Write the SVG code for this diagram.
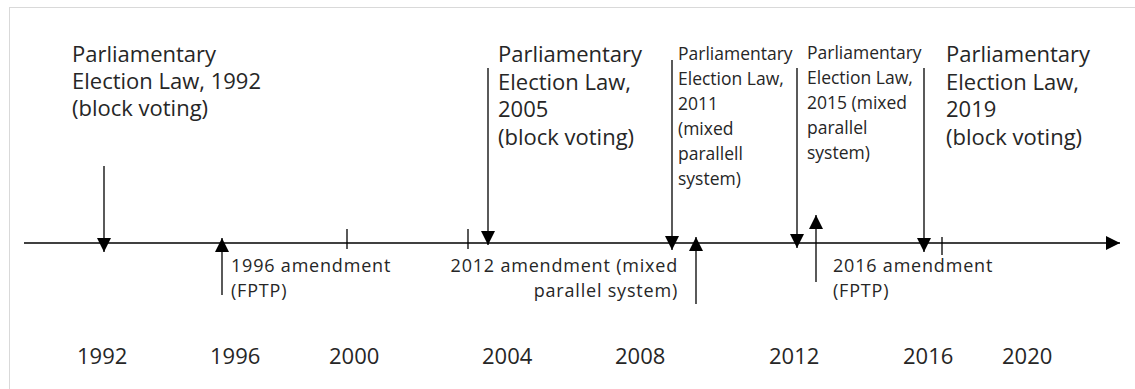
<svg xmlns="http://www.w3.org/2000/svg" width="1135" height="389" viewBox="0 0 1135 389">
<style>
.big{font-family:"Open Sans","Noto Sans",sans-serif;font-size:22px;fill:#262626}
.sm{font-family:"Open Sans","Noto Sans",sans-serif;font-size:17.5px;fill:#262626}
.am{font-family:"Open Sans","Noto Sans",sans-serif;font-size:18px;letter-spacing:0.8px;fill:#262626}
.yr{font-family:"Open Sans","Noto Sans",sans-serif;font-size:22px;fill:#262626}
.ln{stroke:#000;stroke-width:1.3;fill:none}
</style>
<defs>
<marker id="ah" viewBox="0 0 14 14" refX="14" refY="7" markerWidth="14" markerHeight="14" markerUnits="userSpaceOnUse" orient="auto">
<path d="M0,0 L14,7 L0,14 z" fill="#000"/>
</marker>
</defs>
<rect x="9.5" y="7.5" width="1200" height="450" fill="#fff" stroke="#d9d9d9" stroke-width="1"/>
<g id="connectors">
<line class="ln" x1="24" y1="243" x2="1120" y2="243" marker-end="url(#ah)"/>
<line class="ln" x1="347" y1="229" x2="347" y2="249"/>
<line class="ln" x1="468" y1="229" x2="468" y2="249"/>
<line class="ln" x1="942" y1="237" x2="942" y2="255"/>
<line class="ln" x1="104" y1="166" x2="104" y2="252" marker-end="url(#ah)"/>
<line class="ln" x1="222" y1="295" x2="222" y2="238" marker-end="url(#ah)"/>
<line class="ln" x1="488" y1="68" x2="488" y2="245" marker-end="url(#ah)"/>
<line class="ln" x1="672" y1="60" x2="672" y2="250" marker-end="url(#ah)"/>
<line class="ln" x1="696" y1="304" x2="696" y2="237" marker-end="url(#ah)"/>
<line class="ln" x1="797" y1="68" x2="797" y2="248" marker-end="url(#ah)"/>
<line class="ln" x1="816" y1="282" x2="816" y2="215" marker-end="url(#ah)"/>
<line class="ln" x1="924" y1="68" x2="924" y2="252" marker-end="url(#ah)"/>
</g>
<g id="law1992"><text class="big" x="72" y="62"><tspan x="72">Parliamentary</tspan><tspan x="72" dy="27">Election Law, 1992</tspan><tspan x="72" dy="27">(block voting)</tspan></text></g>
<g id="law2005"><text class="big" x="498" y="62"><tspan x="498">Parliamentary</tspan><tspan x="498" dy="27.5">Election Law,</tspan><tspan x="498" dy="27.5">2005</tspan><tspan x="498" dy="27.5">(block voting)</tspan></text></g>
<g id="law2011"><text class="sm" x="678" y="60"><tspan x="678">Parliamentary</tspan><tspan x="678" dy="25">Election Law,</tspan><tspan x="678" dy="25">2011</tspan><tspan x="678" dy="25">(mixed</tspan><tspan x="678" dy="25">parallell</tspan><tspan x="678" dy="25">system)</tspan></text></g>
<g id="law2015"><text class="sm" x="807" y="59"><tspan x="807">Parliamentary</tspan><tspan x="807" dy="25">Election Law,</tspan><tspan x="807" dy="25">2015 (mixed</tspan><tspan x="807" dy="25">parallel</tspan><tspan x="807" dy="25">system)</tspan></text></g>
<g id="law2019"><text class="big" x="946" y="62"><tspan x="946">Parliamentary</tspan><tspan x="946" dy="27.5">Election Law,</tspan><tspan x="946" dy="27.5">2019</tspan><tspan x="946" dy="27.5">(block voting)</tspan></text></g>
<g id="am1996"><text class="am" x="231" y="272"><tspan x="231">1996 amendment</tspan><tspan x="231" dy="25">(FPTP)</tspan></text></g>
<g id="am2012"><text class="am" text-anchor="end" x="678" y="272"><tspan x="678">2012 amendment (mixed</tspan><tspan x="678" dy="25">parallel system)</tspan></text></g>
<g id="am2016"><text class="am" x="833" y="272"><tspan x="833">2016 amendment</tspan><tspan x="833" dy="25">(FPTP)</tspan></text></g>
<g id="years">
<text class="yr" x="77" y="364">1992</text>
<text class="yr" x="210" y="364">1996</text>
<text class="yr" x="329" y="364">2000</text>
<text class="yr" x="482" y="364">2004</text>
<text class="yr" x="615" y="364">2008</text>
<text class="yr" x="769" y="364">2012</text>
<text class="yr" x="903" y="364">2016</text>
<text class="yr" x="1002" y="364">2020</text>
</g>
</svg>
